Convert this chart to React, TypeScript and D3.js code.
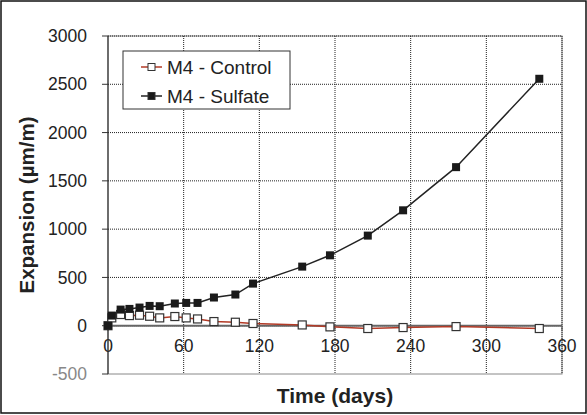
import React from 'react'
import * as d3 from 'd3'

// data
const days = [0, 3, 10, 17, 25, 33, 41, 53, 62, 71, 84, 101, 115, 154, 176, 206, 234, 276, 342]
const sulfate = [0, 105, 167, 174, 188, 205, 202, 230, 236, 236, 292, 323, 436, 612, 729, 933, 1195, 1642, 2557]
const control = [0, 81, 116, 105, 109, 98, 81, 95, 81, 70, 43, 36, 23, 8, -12, -29, -19, -9, -29]
const xTickValues = [0, 60, 120, 180, 240, 300, 360]
const yTickValues = [-500, 0, 500, 1000, 1500, 2000, 2500, 3000]
const seriesNames = ['M4 - Control', 'M4 - Sulfate']

const font = '"Liberation Sans", Arial, sans-serif'

export default function App() {
    const width = 587
    const height = 415
    const margin = { top: 36, right: 25, bottom: 41, left: 108 }
    const innerWidth = width - margin.left - margin.right
    const innerHeight = height - margin.top - margin.bottom

    const xScale = d3.scaleLinear().domain([0, 360]).range([0, innerWidth])
    const yScale = d3.scaleLinear().domain([-500, 3000]).range([innerHeight, 0])

    const pts = (vals: number[]) => days.map((d, i) => [d, vals[i]] as [number, number])
    const line = d3.line<[number, number]>()
        .x(d => xScale(d[0]))
        .y(d => yScale(d[1]))

    const ms = 8 // marker size

    // grid
    const hGrid = yTickValues.filter(v => v > -500).map(v => (
        <line key={'h' + v} x1={0} x2={innerWidth} y1={yScale(v)} y2={yScale(v)}
            stroke='#222' strokeWidth={1} strokeDasharray='1,1' />
    ))
    const vGrid = xTickValues.filter(v => v > 0).map(v => (
        <line key={'v' + v} x1={xScale(v)} x2={xScale(v)} y1={0} y2={innerHeight}
            stroke='#222' strokeWidth={1} strokeDasharray='1,1' />
    ))

    const yTicks = yTickValues.map(v => (
        <g key={v} transform={`translate(0,${yScale(v)})`}>
            <line x1={-6} x2={0} stroke='#333' />
            <text x={-21} dy='.35em' textAnchor='end' fontSize={17.5}
                fill={v < 0 ? '#888' : '#222'}>{v}</text>
        </g>
    ))

    const xTicks = xTickValues.map(v => (
        <g key={v} transform={`translate(${xScale(v)},${yScale(0)})`}>
            <line y1={0} y2={5} stroke='#555' />
            <text y={20} dy='.35em' textAnchor='middle' fontSize={17.5} fill='#222'>{v}</text>
        </g>
    ))

    return (
        <svg width={width} height={height} style={{ position: 'absolute', left: 0, top: 0, fontFamily: font }}>
            <rect x={0} y={0} width={width} height={height} fill='#fff' />
            <rect x={1} y={1} width={width - 2} height={height - 3} fill='none' stroke='#111' strokeWidth={1.5} />
            <g transform={`translate(${margin.left},${margin.top})`}>
                <rect x={0} y={0} width={innerWidth} height={innerHeight} fill='#fff' stroke='#888' strokeWidth={1} />
                {hGrid}
                {vGrid}
                {xTicks}
                <line x1={0} x2={innerWidth} y1={yScale(0)} y2={yScale(0)} stroke='#666' strokeWidth={2} />
                <line x1={0} x2={0} y1={0} y2={innerHeight} stroke='#333' strokeWidth={1.2} />
                {yTicks}

                <path d={line(pts(control)) || ''} fill='none' stroke='#b33a26' strokeWidth={1.5} />
                <path d={line(pts(sulfate)) || ''} fill='none' stroke='#222' strokeWidth={1.5} />
                {pts(control).map((d, i) => (
                    <rect key={'c' + i} x={xScale(d[0]) - ms / 2} y={yScale(d[1]) - ms / 2} width={ms} height={ms}
                        fill='#fff' stroke='#333' strokeWidth={1.2} />
                ))}
                {pts(sulfate).map((d, i) => (
                    <rect key={'s' + i} x={xScale(d[0]) - ms / 2} y={yScale(d[1]) - ms / 2} width={ms} height={ms}
                        fill='#1a1a1a' />
                ))}

                {/* legend */}
                <g transform='translate(15,15)'>
                    <rect x={0} y={0} width={167} height={58} fill='#fff' stroke='#333' strokeWidth={1} />
                    {seriesNames.map((name, i) => (
                        <g key={name} transform={`translate(0,${16 + i * 29})`}>
                            <line x1={18} x2={39} stroke={i === 0 ? '#b33a26' : '#222'} strokeWidth={1.5} />
                            <rect x={28.5 - 3.5} y={-3.5} width={7} height={7}
                                fill={i === 0 ? '#fff' : '#1a1a1a'} stroke='#333' strokeWidth={1} />
                            <text x={44} dy='.35em' fontSize={19} fill='#222'>{name}</text>
                        </g>
                    ))}
                </g>

                <text x={innerWidth / 2} y={innerHeight + 29} textAnchor='middle' fontSize={21}
                    fontWeight='bold' fill='#222'>Time (days)</text>
            </g>
            <text transform={`translate(34,${margin.top + yScale(1250)}) rotate(-90)`} textAnchor='middle'
                fontSize={20.5} fontWeight='bold' fill='#222'>Expansion (µm/m)</text>
        </svg>
    )
}
